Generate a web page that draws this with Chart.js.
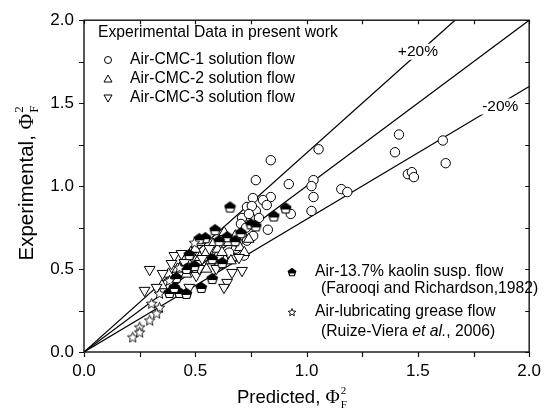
<!DOCTYPE html>
<html>
<head>
<meta charset="utf-8">
<script src="https://cdn.jsdelivr.net/npm/chart.js@4.4.0/dist/chart.umd.min.js"></script>
<style>
html, body { margin:0; padding:0; background:#fff; }
#wrap { width:550px; height:415px; }
</style>
</head>
<body>
<div id="wrap"><canvas id="chart" width="550" height="415"></canvas></div>
<script>
// values: [predicted, experimental]
const cmc1 = [
  [1.415,1.311],[1.397,1.204],[1.612,1.275],[1.625,1.138],[1.455,1.072],[1.473,1.084],[1.482,1.054],
  [1.054,1.222],[0.839,1.156],[0.772,1.036],[0.920,1.012],[1.031,1.036],[1.022,1.000],[1.156,0.982],
  [1.183,0.964],[1.031,0.934],[0.759,0.928],[0.839,0.934],[0.804,0.916],[0.821,0.886],[0.732,0.874],
  [0.772,0.850],[0.929,0.832],[1.022,0.850],[0.710,0.808],[0.750,0.808],[0.786,0.808],[0.705,0.772],
  [0.826,0.737],[0.754,0.880],[0.741,0.832],[0.728,0.749],[0.710,0.701],[0.732,0.671],[0.683,0.623],
  [0.719,0.581],[0.665,0.569],[0.652,0.599],[0.607,0.581],[0.760,0.700],[0.690,0.660]
];
const cmc2 = [
  [0.38,0.47],[0.42,0.50],[0.45,0.55],[0.48,0.60],[0.50,0.62],[0.52,0.57],[0.55,0.60],[0.58,0.65],
  [0.60,0.62],[0.62,0.60],[0.65,0.66],[0.68,0.70],[0.70,0.63],[0.72,0.60],[0.66,0.55],[0.60,0.52],
  [0.55,0.50],[0.46,0.47],[0.40,0.43],[0.52,0.66],[0.74,0.68],[0.63,0.72],[0.35,0.40],[0.57,0.55]
];
const cmc3 = [
  [0.295,0.497],[0.272,0.371],[0.326,0.389],[0.406,0.581],[0.438,0.593],[0.482,0.581],[0.451,0.539],
  [0.504,0.461],[0.594,0.503],[0.665,0.479],[0.710,0.491],[0.643,0.419],[0.629,0.389],[0.531,0.563],
  [0.563,0.623],[0.696,0.569],[0.518,0.503],[0.473,0.389],[0.393,0.533],[0.353,0.473]
];
const kaolin = [
  [0.656,0.874],[0.906,0.868],[0.853,0.820],[0.750,0.772],[0.772,0.760],[0.705,0.719],[0.643,0.695],
  [0.589,0.737],[0.545,0.689],[0.518,0.683],[0.607,0.671],[0.679,0.671],[0.576,0.563],[0.621,0.539],
  [0.496,0.521],[0.460,0.503],[0.415,0.449],[0.384,0.359],[0.429,0.359],[0.460,0.353],[0.406,0.389],
  [0.527,0.389],[0.576,0.443],[0.473,0.587]
];
const grease = [
  [0.496,0.659],[0.429,0.509],[0.384,0.431],[0.339,0.353],[0.304,0.293],[0.339,0.269],[0.326,0.234],
  [0.295,0.192],[0.250,0.150],[0.219,0.090],[0.250,0.120]
];
const lineSlopes = [1.2, 1.0, 0.8];
const lineLabels = [['+20%', 1.50, 1.81], ['-20%', 1.87, 1.48]];
const tickValues = [0, 0.25, 0.5, 0.75, 1.0, 1.25, 1.5, 1.75, 2.0];
const legendTop = ['Experimental Data in present work', 'Air-CMC-1 solution flow', 'Air-CMC-2 solution flow', 'Air-CMC-3 solution flow'];
const legendBottom = ['Air-13.7% kaolin susp. flow', '(Farooqi and Richardson,1982)', 'Air-lubricating grease flow', '(Ruize-Viera ', 'et al.', ', 2006)'];

const FONT = '"Liberation Sans", Arial, sans-serif';
const SERIF = '"Liberation Serif", "Times New Roman", serif';
const LEG = '15.7px ' + FONT;

function toXY(arr) { return arr.map(p => ({x: p[0], y: p[1]})); }

// custom marker: pentagon with black upper half
function makePentagon(s) {
  const c = document.createElement('canvas');
  c.width = s + 2; c.height = s + 2;
  const g = c.getContext('2d');
  const cx = c.width / 2, cy = c.height / 2 + 0.5, r = s / 2;
  const pts = [];
  for (let i = 0; i < 5; i++) {
    const a = -Math.PI / 2 + i * 2 * Math.PI / 5;
    pts.push([cx + r * Math.cos(a), cy + r * Math.sin(a)]);
  }
  const path = () => { g.beginPath(); pts.forEach((p, i) => i ? g.lineTo(p[0], p[1]) : g.moveTo(p[0], p[1])); g.closePath(); };
  path(); g.fillStyle = '#fff'; g.fill();
  g.save(); path(); g.clip(); g.fillStyle = '#000'; g.fillRect(0, 0, c.width, cy + 1); g.restore();
  path(); g.strokeStyle = '#000'; g.lineWidth = 1.1; g.stroke();
  return c;
}
function makeStar(s) {
  const c = document.createElement('canvas');
  c.width = s + 2; c.height = s + 2;
  const g = c.getContext('2d');
  const cx = c.width / 2, cy = c.height / 2 + 0.5, R = s / 2, r = R * 0.45;
  g.beginPath();
  for (let i = 0; i < 10; i++) {
    const a = -Math.PI / 2 + i * Math.PI / 5;
    const rr = i % 2 ? r : R;
    const x = cx + rr * Math.cos(a), y = cy + rr * Math.sin(a);
    i ? g.lineTo(x, y) : g.moveTo(x, y);
  }
  g.closePath(); g.fillStyle = '#fff'; g.fill();
  g.strokeStyle = '#000'; g.lineWidth = 0.9; g.stroke();
  return c;
}
const pentImg = makePentagon(11);
const starImg = makeStar(11);
const pentSmall = makePentagon(8);
const starSmall = makeStar(8);

const marker = {backgroundColor: '#fff', borderColor: '#000', borderWidth: 1, pointHoverRadius: 5};

const datasets = [];
lineSlopes.forEach(k => {
  const xe = Math.min(2, 2 / k);
  datasets.push({data: [{x: 0, y: 0}, {x: xe, y: xe * k}], showLine: true, borderColor: '#000', borderWidth: 1.2, pointRadius: 0, order: 10});
});
datasets.push(Object.assign({data: toXY(cmc1), pointStyle: 'circle', pointRadius: 4.7, order: 5}, marker));
datasets.push(Object.assign({data: toXY(cmc2), pointStyle: 'triangle', pointRadius: 6.2, order: 4}, marker));
datasets.push(Object.assign({data: toXY(cmc3), pointStyle: 'triangle', rotation: 180, pointRadius: 6.2, order: 3}, marker));
datasets.push({data: toXY(kaolin), pointStyle: pentImg, pointRadius: 5.5, order: 2});
datasets.push({data: toXY(grease), pointStyle: starImg, pointRadius: 5.5, order: 1});

// draws "prefix Φ" with superscript 2 and subscript F, left aligned at x
function drawPhi(ctx, x, y, prefix, size) {
  ctx.font = size + 'px ' + FONT;
  ctx.fillText(prefix, x, y);
  x += ctx.measureText(prefix).width;
  ctx.font = (size + 1) + 'px ' + SERIF;
  ctx.fillText('\u03A6', x, y);
  x += ctx.measureText('\u03A6').width + 1;
  ctx.font = Math.round(size * 0.62) + 'px ' + SERIF;
  ctx.fillText('2', x, y - size * 0.47);
  ctx.fillText('F', x, y + size * 0.25);
}
function phiWidth(ctx, prefix, size) {
  ctx.font = size + 'px ' + FONT; let w = ctx.measureText(prefix).width;
  ctx.font = (size + 1) + 'px ' + SERIF; w += ctx.measureText('\u03A6').width + 1;
  ctx.font = Math.round(size * 0.62) + 'px ' + SERIF; w += ctx.measureText('F').width;
  return w;
}

const decor = {
  id: 'decor',
  beforeDatasetsDraw(chart) {
    const {ctx, chartArea: a, scales: {x, y}} = chart;
    ctx.save();
    ctx.strokeStyle = '#111';
    ctx.lineWidth = 1.4;
    ctx.strokeRect(a.left, a.top, a.right - a.left, a.bottom - a.top);
    ctx.lineWidth = 1.2;
    ctx.beginPath();
    tickValues.forEach(v => {
      const px = Math.round(x.getPixelForValue(v)) + 0.5;
      const py = Math.round(y.getPixelForValue(v)) + 0.5;
      ctx.moveTo(px, a.bottom); ctx.lineTo(px, a.bottom + 5);
      ctx.moveTo(px, a.top); ctx.lineTo(px, a.top + 4);
      ctx.moveTo(a.left, py); ctx.lineTo(a.left - 5, py);
      ctx.moveTo(a.right, py); ctx.lineTo(a.right - 4, py);
    });
    ctx.stroke();
    ctx.restore();
  },
  afterDatasetsDraw(chart) {
    const {ctx, chartArea: a, scales: {x, y}} = chart;
    ctx.save();
    ctx.fillStyle = '#000';
    ctx.textBaseline = 'middle';
    // percentage labels on the lines
    ctx.font = '15.5px ' + FONT;
    lineLabels.forEach(l => {
      const px = x.getPixelForValue(l[1]), py = y.getPixelForValue(l[2]);
      const w = ctx.measureText(l[0]).width;
      ctx.fillStyle = '#fff';
      ctx.fillRect(px - w / 2 - 2, py - 8, w + 4, 16);
      ctx.fillStyle = '#000';
      ctx.textAlign = 'center';
      ctx.fillText(l[0], px, py);
    });
    ctx.textAlign = 'left';
    // upper legend
    ctx.font = LEG;
    ctx.fillText(legendTop[0], 98, 33);
    const rows = [60, 79, 98];
    rows.forEach((ry, i) => {
      ctx.fillText(legendTop[i + 1], 130, ry);
      ctx.beginPath();
      ctx.strokeStyle = '#000'; ctx.lineWidth = 1;
      if (i === 0) {
        ctx.arc(108, ry, 3.5, 0, Math.PI * 2);
      } else {
        const d = i === 1 ? -1 : 1;
        ctx.moveTo(108, ry + d * 4); ctx.lineTo(112, ry - d * 3); ctx.lineTo(104, ry - d * 3); ctx.closePath();
      }
      ctx.stroke();
    });
    // lower legend
    ctx.drawImage(pentSmall, 292 - pentSmall.width / 2, 272 - pentSmall.height / 2);
    ctx.fillText(legendBottom[0], 315, 272);
    ctx.fillText(legendBottom[1], 321, 289);
    ctx.drawImage(starSmall, 292 - starSmall.width / 2, 312 - starSmall.height / 2);
    ctx.fillText(legendBottom[2], 315, 312);
    let tx = 321;
    ctx.fillText(legendBottom[3], tx, 332);
    tx += ctx.measureText(legendBottom[3]).width;
    ctx.font = 'italic ' + LEG;
    ctx.fillText(legendBottom[4], tx, 332);
    tx += ctx.measureText(legendBottom[4]).width;
    ctx.font = LEG;
    ctx.fillText(legendBottom[5], tx, 332);
    // axis titles
    ctx.textBaseline = 'alphabetic';
    drawPhi(ctx, 237, 403, 'Predicted, ', 18.5);
    const yt = 'Experimental, ';
    ctx.translate(33, 183);
    ctx.rotate(-Math.PI / 2);
    drawPhi(ctx, -phiWidth(ctx, yt, 20.5) / 2, 0, yt, 20.5);
    ctx.restore();
  }
};

new Chart(document.getElementById('chart'), {
  type: 'scatter',
  data: {datasets: datasets},
  options: {
    responsive: false,
    animation: false,
    devicePixelRatio: 1,
    layout: {padding: {top: 18, right: 19, left: 0, bottom: 0}},
    plugins: {legend: {display: false}, tooltip: {enabled: false}},
    scales: {
      x: {
        type: 'linear', min: 0, max: 2,
        ticks: {stepSize: 0.5, color: '#000', padding: 9, maxRotation: 0, font: {family: FONT, size: 17}, callback: v => v.toFixed(1)},
        grid: {display: false, drawTicks: false},
        border: {display: false},
        afterFit: s => { s.height = 63; }
      },
      y: {
        type: 'linear', min: 0, max: 2,
        ticks: {stepSize: 0.5, color: '#000', padding: 10, font: {family: FONT, size: 17}, callback: v => v.toFixed(1)},
        grid: {display: false, drawTicks: false},
        border: {display: false},
        afterFit: s => { s.width = 84; }
      }
    }
  },
  plugins: [decor]
});
</script>
</body>
</html>
